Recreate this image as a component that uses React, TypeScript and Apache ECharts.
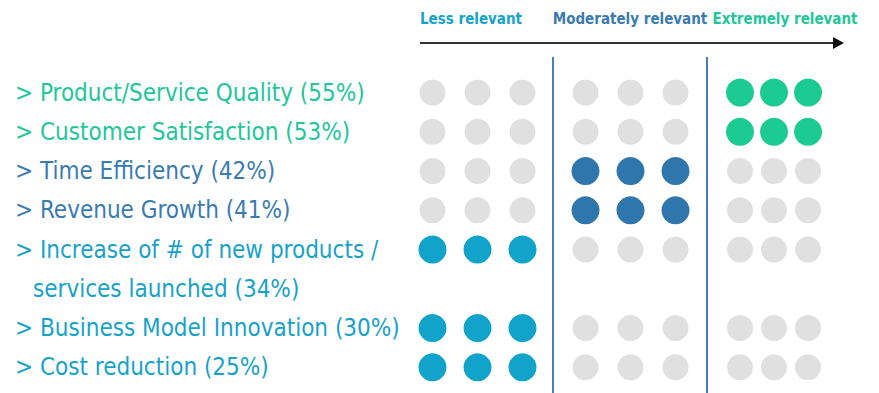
import React, { useEffect, useRef } from "react";
import * as echarts from "echarts";

const levels = ["Less relevant", "Moderately relevant", "Extremely relevant"];
const metrics = [
  "Product/Service Quality",
  "Customer Satisfaction",
  "Time Efficiency",
  "Revenue Growth",
  "Increase of # of new products /\nservices launched",
  "Business Model Innovation",
  "Cost reduction",
];
const shares = [55, 53, 42, 41, 34, 30, 25];
const relevance = [2, 2, 1, 1, 0, 0, 0];
const dotsPerLevel = ["1", "2", "3"];

const levelColors = ["#11A3CA", "#2E76AC", "#1BCB92"];
const textColors = ["#17A2C9", "#3A7BB0", "#22C69A"];
const grayDot = "#E0E0E0";
const FONT = "'Liberation Sans Narrow', 'DejaVu Sans Condensed', 'Roboto', sans-serif";

type Slot = { text: string; metric: number; cont: boolean };

function buildSlots(): Slot[] {
  const slots: Slot[] = [];
  metrics.forEach((m, i) => {
    const lines = `> ${m} (${shares[i]}%)`.split("\n");
    lines.forEach((ln, k) => slots.push({ text: ln.trim(), metric: k === 0 ? i : -1 - i, cont: k > 0 }));
  });
  return slots;
}

export default function App() {
  const ref = useRef<HTMLDivElement>(null);
  useEffect(() => {
    if (!ref.current) return;
    const chart = echarts.init(ref.current, null, { renderer: "svg" });
    const slots = buildSlots();
    const slotNames = slots.map((s, i) => `${i}`);

    const gridDefs = [
      { left: 410, width: 135 },
      { left: 563, width: 135 },
      { left: 723, width: 102 },
    ];
    const grids = gridDefs.map((g) => ({ left: g.left, width: g.width, top: 73, bottom: 6 }));
    const xAxes = gridDefs.map((_, gi) => ({
      type: "category" as const,
      gridIndex: gi,
      data: dotsPerLevel,
      show: false,
    }));
    const labelSize = 24;
    const yAxes = gridDefs.map((_, gi) => ({
      type: "category" as const,
      gridIndex: gi,
      data: slotNames,
      inverse: true,
      axisLine: { show: false },
      axisTick: { show: false },
      splitLine: { show: false },
      axisLabel:
        gi === 0
          ? {
              show: true,
              align: "left" as const,
              margin: 395,
              fontFamily: FONT,
              fontSize: labelSize,
              formatter: (_v: string, idx: number) => {
                const s = slots[idx];
                const mi = s.metric >= 0 ? s.metric : -1 - s.metric;
                const key = `c${relevance[mi]}${s.cont ? "i" : ""}`;
                return `{${key}|${s.text}}`;
              },
              rich: Object.fromEntries(
                [0, 1, 2].flatMap((r) => [
                  [`c${r}`, { color: textColors[r], fontFamily: FONT, fontSize: labelSize }],
                  [`c${r}i`, { color: textColors[r], fontFamily: FONT, fontSize: labelSize, padding: [0, 0, 0, 18] }],
                ])
              ),
            }
          : { show: false },
    }));

    const series: any[] = [];
    levels.forEach((_, gi) => {
      const data: any[] = [];
      slots.forEach((s, si) => {
        if (s.metric < 0) return;
        const on = relevance[s.metric] === gi;
        dotsPerLevel.forEach((d) => {
          data.push({
            value: [d, `${si}`],
            symbolSize: on ? 28 : 26,
            itemStyle: { color: on ? levelColors[gi] : grayDot, opacity: 1 },
          });
        });
      });
      series.push({
        type: "scatter",
        xAxisIndex: gi,
        yAxisIndex: gi,
        symbol: "circle",
        itemStyle: { opacity: 1 },
        data,
        silent: true,
      });
    });

    const headerX = [471, 630, 785];
    chart.setOption({
      animation: false,
      backgroundColor: "#ffffff",
      grid: grids,
      xAxis: xAxes,
      yAxis: yAxes,
      series,
      graphic: [
        ...levels.map((l, i) => ({
          type: "text",
          x: headerX[i],
          y: 19,
          style: {
            text: l,
            fill: textColors[i],
            font: `bold 15px ${FONT}`,
            textAlign: "center",
            textVerticalAlign: "middle",
          },
        })),
        {
          type: "line",
          shape: { x1: 420, y1: 43, x2: 834, y2: 43 },
          style: { stroke: "#333333", lineWidth: 2 },
        },
        {
          type: "polygon",
          shape: { points: [[833, 37], [844, 43], [833, 49]] },
          style: { fill: "#111111" },
        },
        {
          type: "line",
          shape: { x1: 553, y1: 57, x2: 553, y2: 393 },
          style: { stroke: "#4A7DB0", lineWidth: 2 },
        },
        {
          type: "line",
          shape: { x1: 707, y1: 57, x2: 707, y2: 393 },
          style: { stroke: "#4A7DB0", lineWidth: 2 },
        },
      ],
    });
    return () => chart.dispose();
  }, []);
  return <div ref={ref} style={{ width: 879, height: 393, position: "absolute", left: 0, top: 0 }} />;
}
